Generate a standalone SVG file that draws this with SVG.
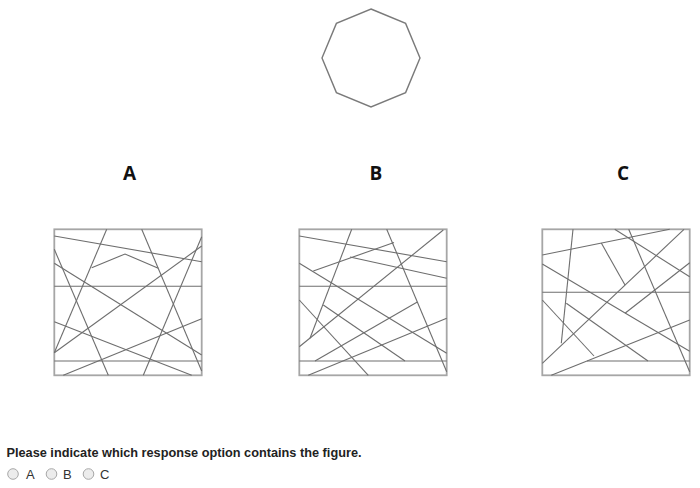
<svg xmlns="http://www.w3.org/2000/svg" width="700" height="488" viewBox="0 0 700 488">
<style>
.frame{fill:none;stroke:#a6a6a6;stroke-width:1.8}
.ln{fill:none;stroke:#6e6e6e;stroke-width:1.1}
.oct{fill:none;stroke:#7a7a7a;stroke-width:1.4}
.lbl{font-family:"Open Sans","Liberation Sans",sans-serif;font-weight:bold;font-size:19px;fill:#111;text-anchor:middle}
.q{font-family:"Liberation Sans",Arial,sans-serif;font-weight:bold;font-size:12.8px;fill:#222}
.opt{font-family:"Liberation Sans",Arial,sans-serif;font-size:13px;fill:#333}
.radio{fill:#ececec;stroke:#a8a8a8;stroke-width:1}
</style>
<rect width="700" height="488" fill="#ffffff"/>
<g id="target">
<polygon class="oct" points="371,9 405.6,23.4 420,58 405.6,92.6 371,107 336.4,92.6 322,58 336.4,23.4"/>
</g>
<g id="label-A"><text class="lbl" x="129.5" y="180">A</text></g>
<g id="label-B"><text class="lbl" x="376" y="180">B</text></g>
<g id="label-C"><text class="lbl" x="623" y="180">C</text></g>
<g id="option-A" transform="translate(45,220)">
<rect class="frame" x="9.3" y="9.3" width="147.4" height="146"/>
<g class="ln">
<line x1="9.3" y1="16" x2="156.7" y2="41.7"/>
<line x1="9.3" y1="66.3" x2="156.7" y2="66.3"/>
<line x1="9.3" y1="141" x2="156.7" y2="141"/>
<line x1="61.7" y1="9.3" x2="9.3" y2="132.7"/>
<line x1="9.3" y1="29.3" x2="63.3" y2="155.3"/>
<line x1="9.3" y1="43.3" x2="156.7" y2="135"/>
<line x1="9.3" y1="132.7" x2="156.7" y2="26"/>
<line x1="9.3" y1="101.7" x2="146.7" y2="155.3"/>
<line x1="18.3" y1="155.3" x2="156.7" y2="98.7"/>
<line x1="96.7" y1="9.3" x2="156.7" y2="151"/>
<line x1="98.3" y1="155.3" x2="156.7" y2="16.7"/>
<polyline points="46.7,47.7 80,34 113.3,48.3"/>
</g>
</g>
<g id="option-B" transform="translate(290,220)">
<rect class="frame" x="9.3" y="9.3" width="147.4" height="146"/>
<g class="ln">
<line x1="9.3" y1="16" x2="156.7" y2="41.7"/>
<line x1="9.3" y1="66.3" x2="156.7" y2="66.3"/>
<line x1="9.3" y1="141" x2="156.7" y2="141"/>
<line x1="61.7" y1="9.3" x2="20" y2="118.3"/>
<line x1="96.7" y1="9.3" x2="156.7" y2="151.7"/>
<line x1="23.3" y1="51" x2="104" y2="22.5"/>
<line x1="60" y1="37" x2="156.7" y2="58.3"/>
<line x1="9.3" y1="43.3" x2="156.7" y2="133.3"/>
<line x1="9.3" y1="126.7" x2="153.3" y2="10"/>
<line x1="9.3" y1="80" x2="78.3" y2="155.3"/>
<line x1="25" y1="141" x2="127.3" y2="82"/>
<line x1="18.3" y1="155.3" x2="156.7" y2="98.3"/>
<line x1="33.3" y1="85" x2="115" y2="141"/>
</g>
</g>
<g id="option-C" transform="translate(533,220)">
<rect class="frame" x="9.3" y="9.3" width="147.4" height="146"/>
<g class="ln">
<line x1="9.3" y1="35" x2="136.7" y2="9.3"/>
<line x1="9.3" y1="72.3" x2="156.7" y2="72.3"/>
<line x1="54" y1="141" x2="156.7" y2="141"/>
<line x1="40" y1="9.3" x2="28.3" y2="123.3"/>
<line x1="81.7" y1="9.3" x2="156.7" y2="56.7"/>
<line x1="95.7" y1="9.3" x2="156.7" y2="151.7"/>
<line x1="68.3" y1="23.1" x2="92" y2="65"/>
<line x1="9.3" y1="44" x2="156.7" y2="131.3"/>
<line x1="9.3" y1="143.3" x2="151" y2="9.3"/>
<line x1="9.3" y1="80" x2="61" y2="136"/>
<line x1="33.3" y1="83.3" x2="115" y2="141"/>
<line x1="92" y1="93.3" x2="156.7" y2="42.7"/>
<line x1="18.3" y1="155.3" x2="156.7" y2="100"/>
</g>
</g>
<g id="question">
<text class="q" x="6.5" y="457" textLength="355" lengthAdjust="spacingAndGlyphs">Please indicate which response option contains the figure.</text>
</g>
<g id="answers">
<circle class="radio" cx="13" cy="474" r="5.3"/>
<text class="opt" x="26" y="478.5">A</text>
<circle class="radio" cx="51.5" cy="474" r="5.3"/>
<text class="opt" x="63" y="478.5">B</text>
<circle class="radio" cx="88.5" cy="474" r="5.3"/>
<text class="opt" x="100" y="478.5">C</text>
</g>
</svg>
